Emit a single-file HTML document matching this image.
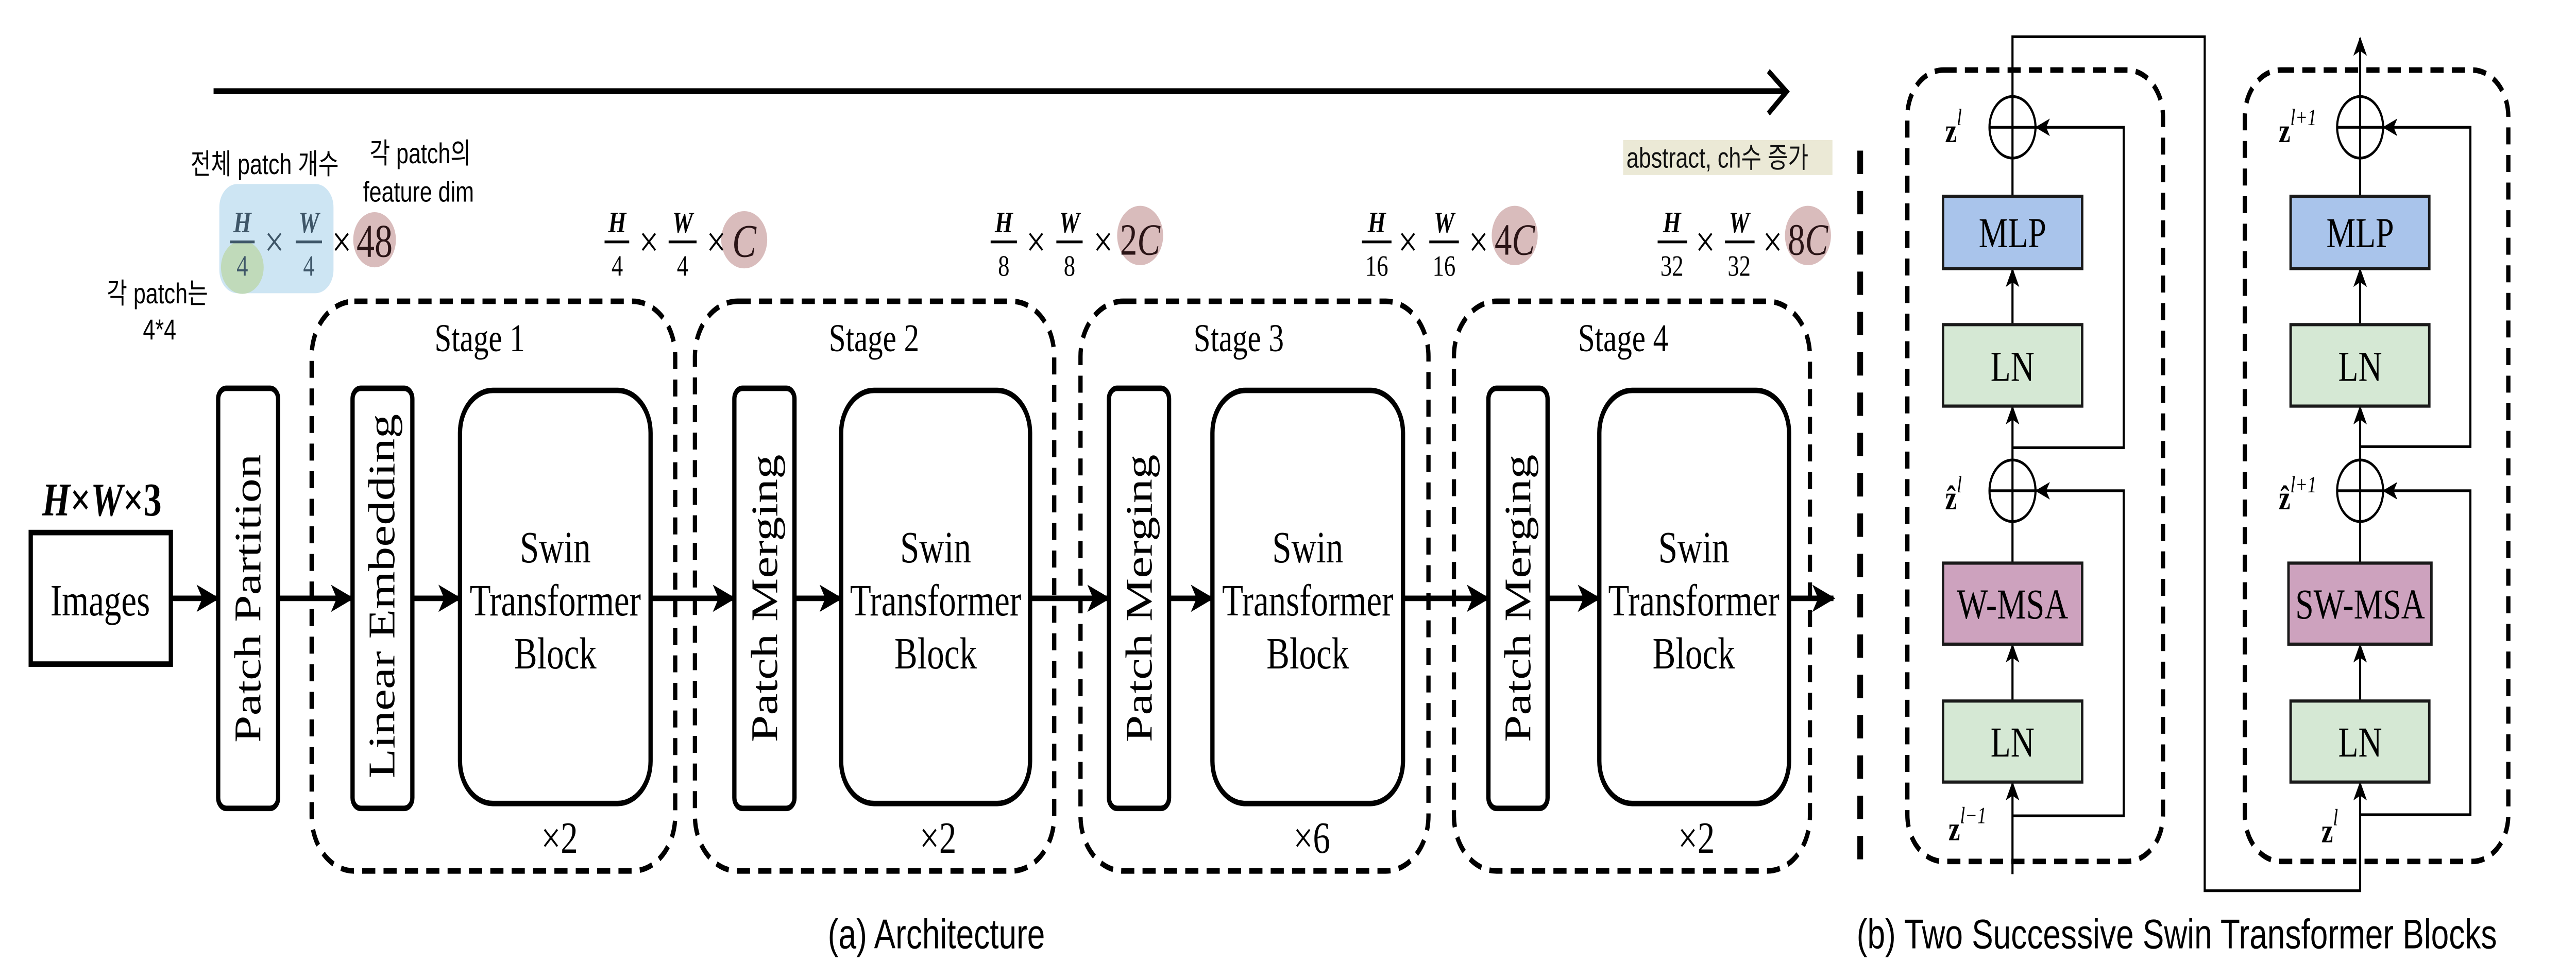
<!DOCTYPE html>
<html><head><meta charset="utf-8"><style>
html,body{margin:0;padding:0;background:#fff;overflow:hidden;width:100%;height:100%;}
svg{display:block;width:100vw;height:100vh;}
.ser{font-family:"Liberation Serif",serif;}
.kr{font-family:"Liberation Sans","Noto Sans CJK KR",sans-serif;}
</style></head><body>
<svg viewBox="0 0 1568 453.4" preserveAspectRatio="none" xmlns="http://www.w3.org/2000/svg">
<defs>
<marker id="ah" markerUnits="userSpaceOnUse" markerWidth="14" markerHeight="14" viewBox="0 0 12 12" refX="11" refY="6" orient="auto">
<path d="M0,0.5 L12,6 L0,11.5 L3,6 z" fill="#000"/>
</marker>
<marker id="as" markerUnits="userSpaceOnUse" markerWidth="9" markerHeight="9" viewBox="0 0 12 12" refX="11" refY="6" orient="auto">
<path d="M0,0.5 L12,6 L0,11.5 L3,6 z" fill="#000"/>
</marker>
</defs>
<rect width="1568" height="453.4" fill="#fff"/>

<line x1="130" y1="43" x2="1087" y2="43" stroke="#000" stroke-width="2.8"/>
<polyline points="1076.4,33.5 1087.5,43.2 1076.4,53.5" fill="none" stroke="#000" stroke-width="2.6"/>
<rect x="988" y="66" width="127.4" height="16.5" fill="#ebe9d6"/>
<text x="990" y="79" class="kr" font-size="13.5" fill="#111">abstract, ch수 증가</text>

<rect x="133.5" y="86.7" width="69.5" height="51.5" rx="11" fill="#cde5f3"/>
<ellipse cx="147.5" cy="126" rx="13" ry="12.5" fill="#bfd9b6" opacity="0.95"/>
<ellipse cx="228" cy="113" rx="13" ry="13" fill="#d9bcbc"/>
<ellipse cx="453" cy="113" rx="14" ry="13.5" fill="#d9bcbc"/>
<ellipse cx="694" cy="111" rx="14" ry="14" fill="#d9bcbc"/>
<ellipse cx="922" cy="111" rx="14" ry="14" fill="#d9bcbc"/>
<ellipse cx="1100.5" cy="111" rx="14" ry="14" fill="#d9bcbc"/>

<text x="116" y="82" class="kr" font-size="13.5">전체 patch 개수</text>
<text x="225" y="77" class="kr" font-size="13.5">각 patch의</text>
<text x="221" y="95" class="kr" font-size="13.5">feature dim</text>
<text x="65" y="143" class="kr" font-size="13.5">각 patch는</text>
<text x="87" y="160" class="kr" font-size="13.5">4*4</text>

<g class="ser" text-anchor="middle">
 <g fill="#3e5668">
  <text x="147.5" y="109.5" font-size="14" font-style="italic" font-weight="bold">H</text>
  <line x1="140" y1="114" x2="155" y2="114" stroke="#3e5668" stroke-width="1.3"/>
  <text x="147.5" y="130" font-size="14">4</text>
  <text x="167" y="121" font-size="21">×</text>
  <text x="188" y="109.5" font-size="14" font-style="italic" font-weight="bold">W</text>
  <line x1="180" y1="114" x2="196" y2="114" stroke="#3e5668" stroke-width="1.3"/>
  <text x="188" y="130" font-size="14">4</text>
 </g>
 <text x="208" y="121" font-size="21">×</text>
 <text x="228" y="121" font-size="22" fill="#2a1416">48</text>

 <text x="375.7" y="109.5" font-size="14" font-style="italic" font-weight="bold">H</text>
 <line x1="368" y1="114" x2="383" y2="114" stroke="#000" stroke-width="1.3"/>
 <text x="375.7" y="130" font-size="14">4</text>
 <text x="395" y="121" font-size="21">×</text>
 <text x="415.5" y="109.5" font-size="14" font-style="italic" font-weight="bold">W</text>
 <line x1="407" y1="114" x2="424" y2="114" stroke="#000" stroke-width="1.3"/>
 <text x="415.5" y="130" font-size="14">4</text>
 <text x="436" y="121" font-size="21">×</text>
 <text x="453" y="121" font-size="22" font-style="italic" fill="#2a1416">C</text>

 <text x="611" y="109.5" font-size="14" font-style="italic" font-weight="bold">H</text>
 <line x1="603" y1="114" x2="619" y2="114" stroke="#000" stroke-width="1.3"/>
 <text x="611" y="130" font-size="14">8</text>
 <text x="630.6" y="121" font-size="21">×</text>
 <text x="651" y="109.5" font-size="14" font-style="italic" font-weight="bold">W</text>
 <line x1="643" y1="114" x2="659" y2="114" stroke="#000" stroke-width="1.3"/>
 <text x="651" y="130" font-size="14">8</text>
 <text x="671.5" y="121" font-size="21">×</text>
 <text x="694" y="120" font-size="21" fill="#2a1416">2<tspan font-style="italic">C</tspan></text>

 <text x="838" y="109.5" font-size="14" font-style="italic" font-weight="bold">H</text>
 <line x1="829" y1="114" x2="847" y2="114" stroke="#000" stroke-width="1.3"/>
 <text x="838" y="130" font-size="14">16</text>
 <text x="857" y="121" font-size="21">×</text>
 <text x="879" y="109.5" font-size="14" font-style="italic" font-weight="bold">W</text>
 <line x1="870" y1="114" x2="888" y2="114" stroke="#000" stroke-width="1.3"/>
 <text x="879" y="130" font-size="14">16</text>
 <text x="900" y="121" font-size="21">×</text>
 <text x="922" y="120" font-size="21" fill="#2a1416">4<tspan font-style="italic">C</tspan></text>

 <text x="1017.7" y="109.5" font-size="14" font-style="italic" font-weight="bold">H</text>
 <line x1="1009" y1="114" x2="1027" y2="114" stroke="#000" stroke-width="1.3"/>
 <text x="1017.7" y="130" font-size="14">32</text>
 <text x="1038" y="121" font-size="21">×</text>
 <text x="1058.6" y="109.5" font-size="14" font-style="italic" font-weight="bold">W</text>
 <line x1="1050" y1="114" x2="1068" y2="114" stroke="#000" stroke-width="1.3"/>
 <text x="1058.6" y="130" font-size="14">32</text>
 <text x="1079" y="121" font-size="21">×</text>
 <text x="1100.5" y="120" font-size="21" fill="#2a1416">8<tspan font-style="italic">C</tspan></text>
</g>

<text x="62" y="243" class="ser" font-size="22" font-weight="bold" font-style="italic" text-anchor="middle">H<tspan font-style="normal">×</tspan>W<tspan font-style="normal">×3</tspan></text>
<rect x="18.7" y="251" width="85.3" height="62" fill="#fff" stroke="#000" stroke-width="2.6"/>
<text x="61" y="290" class="ser" font-size="21" text-anchor="middle">Images</text>

<g fill="none" stroke="#000" stroke-width="2.6" stroke-dasharray="8,5">
 <rect x="189.7" y="142" width="221.3" height="268.5" rx="26"/>
 <rect x="423" y="142" width="218.7" height="268.5" rx="26"/>
 <rect x="657.7" y="142" width="211.8" height="268.5" rx="26"/>
 <rect x="885" y="142" width="216.7" height="268.5" rx="26"/>
</g>
<g class="ser" font-size="18.5" text-anchor="middle">
 <text x="292" y="165.5">Stage 1</text>
 <text x="532" y="165.5">Stage 2</text>
 <text x="754" y="165.5">Stage 3</text>
 <text x="988" y="165.5">Stage 4</text>
</g>
<g class="ser" font-size="21" text-anchor="middle">
 <text x="340.6" y="402">×2</text>
 <text x="571" y="402">×2</text>
 <text x="798.5" y="402">×6</text>
 <text x="1032.6" y="402">×2</text>
</g>

<g fill="#fff" stroke="#000" stroke-width="2.6">
 <rect x="132.8" y="183" width="36.5" height="198" rx="5"/>
 <rect x="214.6" y="183" width="36.4" height="198" rx="5"/>
 <rect x="447" y="183" width="36.6" height="198" rx="5"/>
 <rect x="675" y="183" width="36.6" height="198" rx="5"/>
 <rect x="906" y="183" width="36" height="198" rx="5"/>
 <rect x="280" y="184" width="116" height="194.7" rx="20"/>
 <rect x="512" y="184" width="115" height="194.7" rx="20"/>
 <rect x="738" y="184" width="116" height="194.7" rx="20"/>
 <rect x="973.5" y="184" width="115.5" height="194.7" rx="20"/>
</g>
<g class="ser" font-size="23" text-anchor="middle">
 <text transform="translate(158.5,282) rotate(-90)">Patch Partition</text>
 <text transform="translate(240,281) rotate(-90)">Linear Embedding</text>
 <text transform="translate(473,282) rotate(-90)">Patch Merging</text>
 <text transform="translate(701,282) rotate(-90)">Patch Merging</text>
 <text transform="translate(931.5,282) rotate(-90)">Patch Merging</text>
</g>
<g class="ser" font-size="21" text-anchor="middle">
 <text x="338" y="265">Swin</text><text x="338" y="290">Transformer</text><text x="338" y="315">Block</text>
 <text x="569.5" y="265">Swin</text><text x="569.5" y="290">Transformer</text><text x="569.5" y="315">Block</text>
 <text x="796" y="265">Swin</text><text x="796" y="290">Transformer</text><text x="796" y="315">Block</text>
 <text x="1031" y="265">Swin</text><text x="1031" y="290">Transformer</text><text x="1031" y="315">Block</text>
</g>

<g stroke="#000" stroke-width="2.6" marker-end="url(#ah)">
 <line x1="104" y1="282" x2="132.5" y2="282"/>
 <line x1="169.3" y1="282" x2="214.3" y2="282"/>
 <line x1="251" y1="282" x2="279.7" y2="282"/>
 <line x1="396" y1="282" x2="446.7" y2="282"/>
 <line x1="483.6" y1="282" x2="511.7" y2="282"/>
 <line x1="627" y1="282" x2="674.7" y2="282"/>
 <line x1="711.6" y1="282" x2="737.7" y2="282"/>
 <line x1="854" y1="282" x2="905.7" y2="282"/>
 <line x1="942" y1="282" x2="973.2" y2="282"/>
 <line x1="1089" y1="282" x2="1116" y2="282"/>
</g>

<line x1="1132.3" y1="71" x2="1132.3" y2="410" stroke="#000" stroke-width="3.5" stroke-dasharray="11,8"/>

<g fill="none" stroke="#000" stroke-width="2.6" stroke-dasharray="8,5">
 <rect x="1161" y="33" width="155.6" height="373" rx="22"/>
 <rect x="1366.4" y="33" width="160.4" height="373" rx="22"/>
</g>

<g stroke="#000" stroke-width="1.3" fill="none">
 <line x1="1225" y1="412" x2="1225" y2="369" marker-end="url(#as)"/>
 <line x1="1225" y1="330.4" x2="1225" y2="304" marker-end="url(#as)"/>
 <line x1="1225" y1="265.4" x2="1225" y2="217"/>
 <line x1="1225" y1="217" x2="1225" y2="191.8" marker-end="url(#as)"/>
 <line x1="1225" y1="153" x2="1225" y2="127" marker-end="url(#as)"/>
 <polyline points="1225,92.5 1225,17.3 1342,17.3 1342,419.8 1436.6,419.8 1436.6,369" marker-end="url(#as)"/>
 <polyline points="1225,384.5 1292.7,384.5 1292.7,231.3 1239.5,231.3" marker-end="url(#as)"/>
 <polyline points="1225,211 1292.7,211 1292.7,60 1239.5,60" marker-end="url(#as)"/>
 <ellipse cx="1225" cy="231.3" rx="14" ry="14.5"/>
 <line x1="1211" y1="231.3" x2="1239" y2="231.3"/>
 <ellipse cx="1225" cy="60" rx="14" ry="14.5"/>
 <line x1="1211" y1="60" x2="1239" y2="60"/>
 <line x1="1436.6" y1="330.4" x2="1436.6" y2="304" marker-end="url(#as)"/>
 <line x1="1436.6" y1="265.4" x2="1436.6" y2="217"/>
 <line x1="1436.6" y1="217" x2="1436.6" y2="191.8" marker-end="url(#as)"/>
 <line x1="1436.6" y1="153" x2="1436.6" y2="127" marker-end="url(#as)"/>
 <line x1="1436.6" y1="92.5" x2="1436.6" y2="18" marker-end="url(#as)"/>
 <polyline points="1436.6,384 1503.7,384 1503.7,231.3 1451,231.3" marker-end="url(#as)"/>
 <polyline points="1436.6,210.5 1503.7,210.5 1503.7,60 1451,60" marker-end="url(#as)"/>
 <ellipse cx="1436.6" cy="231.3" rx="14" ry="14.5"/>
 <line x1="1422.6" y1="231.3" x2="1450.6" y2="231.3"/>
 <ellipse cx="1436.6" cy="60" rx="14" ry="14.5"/>
 <line x1="1422.6" y1="60" x2="1450.6" y2="60"/>
</g>

<g stroke="#1a1a1a" stroke-width="1.5">
 <rect x="1182.7" y="330.4" width="84.7" height="38.2" fill="#d5e8d4"/>
 <rect x="1182.7" y="265.4" width="84.7" height="38.2" fill="#cda2be"/>
 <rect x="1182.7" y="153" width="84.7" height="38.4" fill="#d5e8d4"/>
 <rect x="1182.7" y="92.5" width="84.7" height="34.1" fill="#a9c4eb"/>
 <rect x="1394.3" y="330.4" width="84.4" height="38.2" fill="#d5e8d4"/>
 <rect x="1393" y="265.4" width="87" height="38.2" fill="#cda2be"/>
 <rect x="1394.3" y="153" width="84.4" height="38.4" fill="#d5e8d4"/>
 <rect x="1394.3" y="92.5" width="84.4" height="34.1" fill="#a9c4eb"/>
</g>
<g class="ser" font-size="20" text-anchor="middle">
 <text x="1225" y="356.5">LN</text>
 <text x="1225" y="291.5">W-MSA</text>
 <text x="1225" y="179.5">LN</text>
 <text x="1225" y="116.5">MLP</text>
 <text x="1436.6" y="356.5">LN</text>
 <text x="1436.6" y="291.5">SW-MSA</text>
 <text x="1436.6" y="179.5">LN</text>
 <text x="1436.6" y="116.5">MLP</text>
</g>
<g class="ser" font-weight="bold" font-size="16">
 <text x="1184" y="67">z<tspan font-size="11" dy="-8" font-style="italic" font-weight="normal">l</tspan></text>
 <text x="1184" y="240">ẑ<tspan font-size="11" dy="-8" font-style="italic" font-weight="normal">l</tspan></text>
 <text x="1186" y="396">z<tspan font-size="11" dy="-8" font-style="italic" font-weight="normal">l−1</tspan></text>
 <text x="1387" y="67">z<tspan font-size="11" dy="-8" font-style="italic" font-weight="normal">l+1</tspan></text>
 <text x="1387" y="240">ẑ<tspan font-size="11" dy="-8" font-style="italic" font-weight="normal">l+1</tspan></text>
 <text x="1413" y="397">z<tspan font-size="11" dy="-8" font-style="italic" font-weight="normal">l</tspan></text>
</g>

<text x="570" y="447" font-family="Liberation Sans, sans-serif" font-size="19.5" text-anchor="middle">(a) Architecture</text>
<text x="1325" y="447" font-family="Liberation Sans, sans-serif" font-size="19.5" text-anchor="middle">(b) Two Successive Swin Transformer Blocks</text>
</svg>
</body></html>
